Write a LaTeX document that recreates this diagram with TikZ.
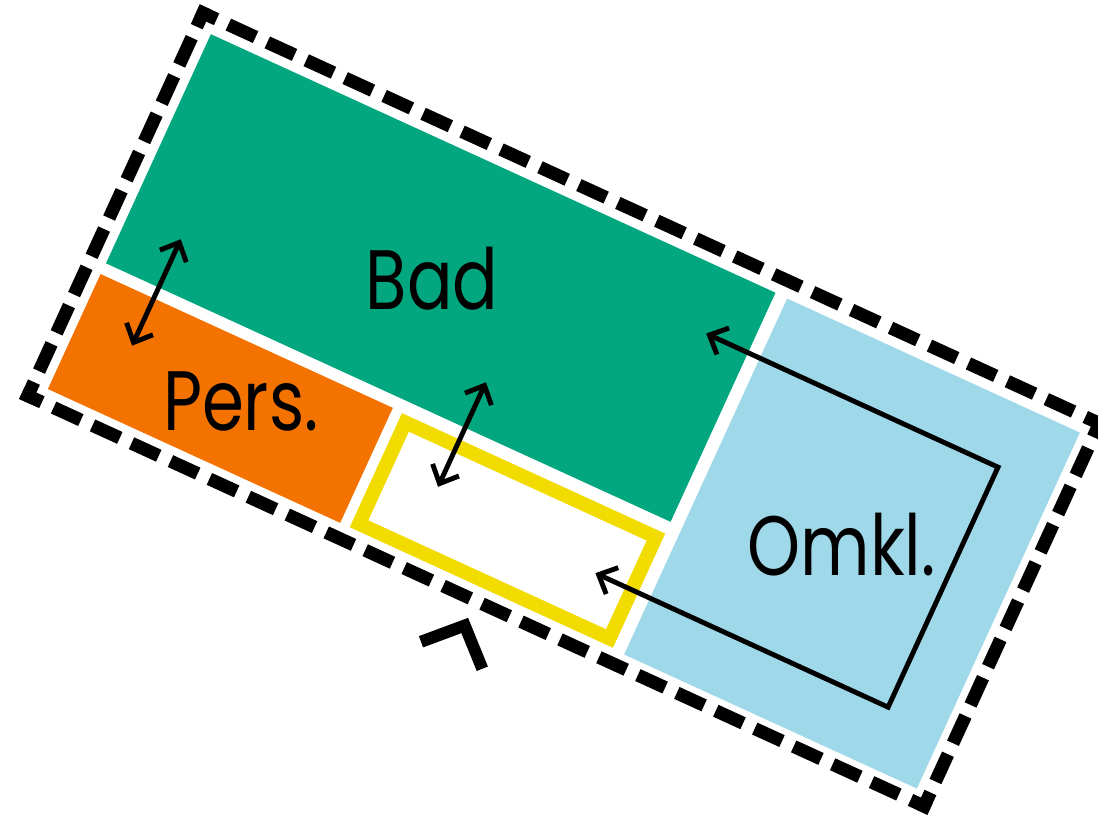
\documentclass[tikz,border=0pt]{standalone}
\usepackage{fontspec}
\setmainfont{Poppins}[FakeStretch=0.8]
\usetikzlibrary{arrows.meta}

\definecolor{badgreen}{HTML}{02A67F}
\definecolor{persorange}{HTML}{F47300}
\definecolor{omklblue}{HTML}{9ED8E9}
\definecolor{gangyellow}{HTML}{F2DC00}

\begin{document}
\begin{tikzpicture}[
    x=0.02cm, y=-0.02cm,
    roomlabel/.style={anchor=base, inner sep=0pt, font=\fontsize{48}{48}\selectfont},
    frame/.style={line width=0.26cm, line cap=rect, dash pattern=on 0.34cm off #1, dash phase=0.17cm},
    gang/.style={draw=gangyellow, line width=0.28cm},
    walk/.style={line width=2.8pt, {Straight Barb[length=0.3cm,width=0.58cm]}-{Straight Barb[length=0.3cm,width=0.58cm]}},
    entry/.style={line width=0.24cm, line join=miter}
]
    \useasboundingbox (0,0) rectangle (1098,820);
    \begin{scope}[shift={(203,13)}, rotate=-24.6]
        % rooms
        \fill[badgreen] (16,16) rectangle (637,268);
        \fill[persorange] (15.5,280) rectangle (337,406.5);
        \fill[omklblue] (650,16.5) rectangle (972,408);
        \draw[gang] (354.5,288) rectangle (630,399.5);
        \node[roomlabel] (bad) at (332,174.5) {Bad};
        \node[roomlabel] (pers) at (208,363.5) {Pers.};
        \node[roomlabel] (omkl) at (815,246) {Omkl.};
        % outer wall
        \coordinate (f1) at (0,0);
        \coordinate (f2) at (986,0);
        \coordinate (f3) at (986,421);
        \coordinate (f4) at (0,421);
        \foreach \p/\q/\g in {f1/f2/0.517cm, f2/f3/0.502cm, f3/f4/0.517cm, f4/f1/0.502cm}
            \draw[frame=\g] (\p) -- (\q);
        % connections
        \coordinate (a1) at (74,215);
        \coordinate (a2) at (74,332);
        \coordinate (b1) at (411,218);
        \coordinate (b2) at (411,333);
        \coordinate (c1) at (591,82);
        \coordinate (c2) at (912,82);
        \coordinate (c3) at (912,346);
        \coordinate (c4) at (590,346);
        \draw[walk] (a1) -- (a2);
        \draw[walk] (b1) -- (b2);
        \draw[walk] (c1) -- (c2) -- (c3) -- (c4);
        % entrance
        \coordinate (e1) at (460,481);
        \coordinate (e2) at (493,448);
        \coordinate (e3) at (527,480);
        \draw[entry] (e1) -- (e2) -- (e3);
    \end{scope}
\end{tikzpicture}
\end{document}
